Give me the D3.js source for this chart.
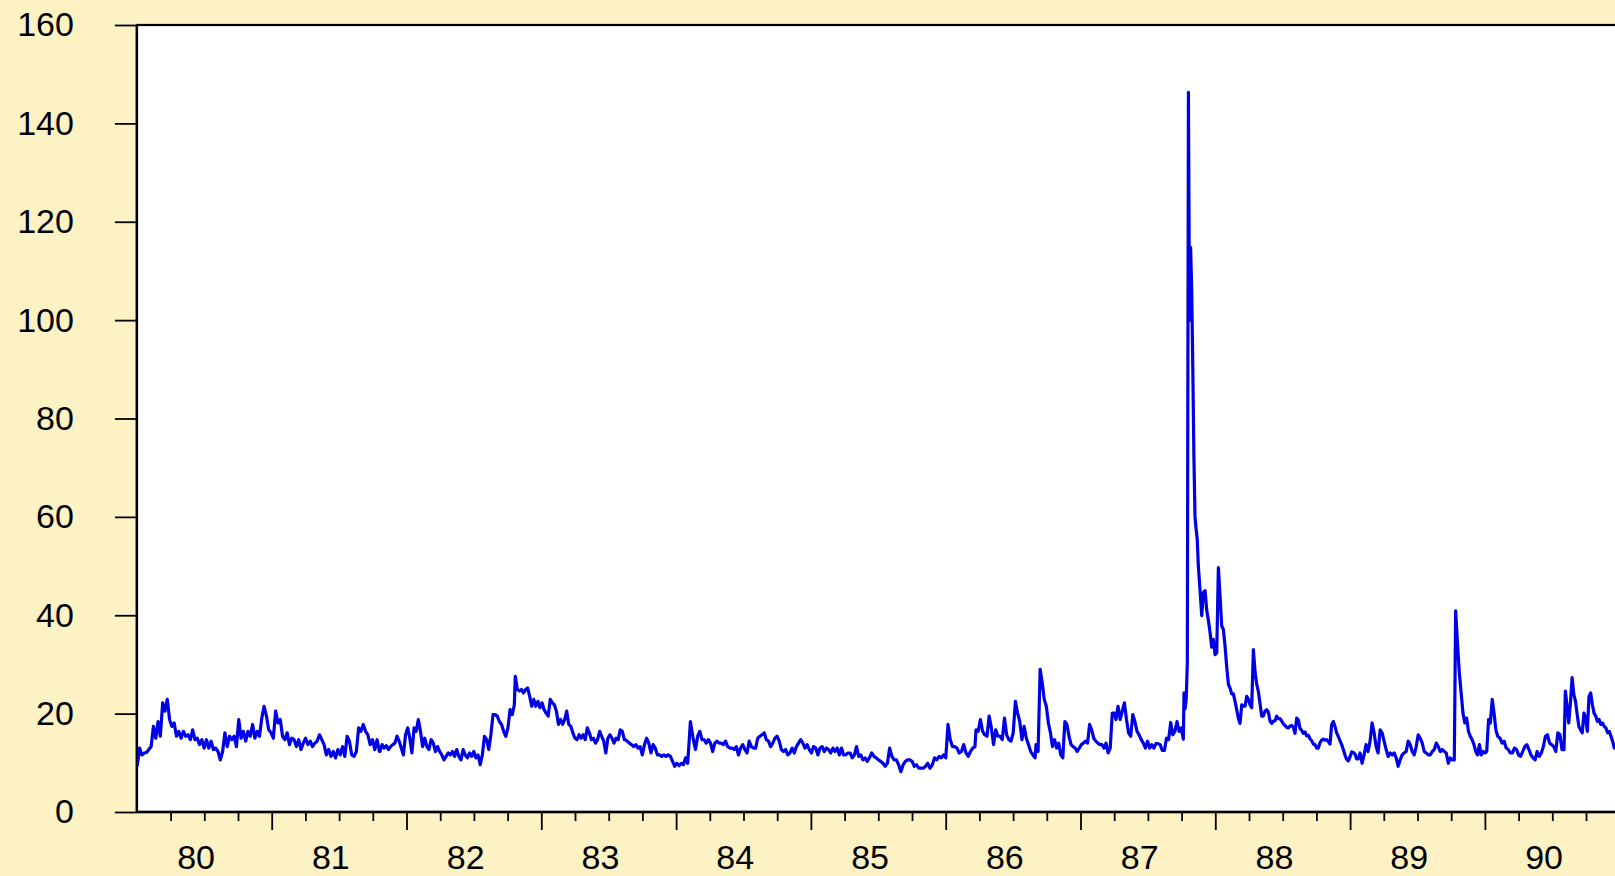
<!DOCTYPE html>
<html>
<head>
<meta charset="utf-8">
<script src="https://cdn.jsdelivr.net/npm/d3@7"></script>
<style>
html,body{margin:0;padding:0;background:#FCF2C4;overflow:hidden}
svg{display:block}
</style>
</head>
<body>
<svg id="chart" width="1615" height="876"></svg>
<script>
// ---- Data: daily volatility index, in time segments ----
// Each segment: [start year (decimal), end year (decimal)], values spread evenly in between.
const span1980a = [1980.003, 1981.799];
const vol1980a = [9.5,13.0,11.6,12.0,12.1,12.7,13.3,17.4,15.0,18.4,15.4,22.2,20.5,22.9,18.8,17.4,18.1,15.4,16.4,15.0,
  16.4,15.4,15.7,14.7,16.7,14.7,15.0,13.7,14.7,13.0,14.7,13.0,14.4,12.7,13.0,12.3,10.6,12.3,16.1,13.3,
  15.4,14.7,15.4,13.3,18.8,15.0,16.4,14.4,16.4,15.4,17.8,15.0,16.4,15.4,19.1,21.5,19.5,16.7,16.1,15.0,
  20.5,18.1,18.8,15.4,14.7,16.1,13.7,15.0,14.7,13.3,14.7,12.7,14.0,15.0,13.7,14.4,13.3,14.0,14.4,15.7,
  14.7,13.7,11.6,12.7,11.3,12.3,11.0,12.7,11.6,13.3,11.3,15.4,14.4,11.6,11.3,12.3,17.1,16.4,17.8,16.4,
  15.7,13.7,14.7,12.7,14.7,12.3];

const span1981b = [1981.803, 1982.800];
const vol1981b = [12.3,13.7,13.0,13.5,12.7,13.3,13.7,14.0,15.4,14.4,13.0,11.6,15.7,17.1,15.0,12.0,17.1,16.4,18.8,16.4,
  13.3,15.0,13.3,12.7,14.7,14.0,12.3,13.3,12.3,11.6,10.6,11.3,12.0,11.6,12.3,11.3,12.7,11.3,10.6,12.7,
  11.6,11.0,12.0,11.3,12.3,11.0,11.6,9.6,11.6,15.4,14.7,12.7,15.7,19.8,19.8,19.5,18.4,17.8,16.4,15.4,
  17.1,20.8,19.8,21.8];

const span1982c = [1982.807, 1983.616];
const vol1982c = [27.6,24.9,24.6,24.9,24.2,24.9,25.2,23.5,21.5,22.9,21.5,22.5,21.2,22.2,20.8,20.1,19.5,22.9,22.2,21.8,
  20.5,17.8,18.8,17.8,18.8,20.5,17.8,17.4,16.1,15.0,14.7,15.7,15.0,15.7,14.7,17.1,16.1,14.7,15.0,14.0,
  14.7,16.4,15.4,14.4,12.0,15.0,15.7,15.0,14.0,15.0,14.7,16.7,16.4,14.7];

const span1983d = [1983.621, 1984.086];
const vol1983d = [14.7,14.4,14.0,13.7,13.3,13.7,13.0,13.3,11.6,13.7,15.0,14.0,12.0,13.7,13.0,11.6,11.6,11.3,11.6,11.3,
  11.6,11.3,10.3,9.3,9.9,9.4,9.9,9.6,11.0,9.9];

const span1984a = [1984.096, 1984.116];
const vol1984a = [14.0,18.4,16.7];

const span1984b = [1984.128, 1985.434];
const vol1984b = [14.7,12.7,15.4,16.4,14.7,14.7,14.0,14.7,14.0,12.3,14.0,14.4,14.0,14.0,13.7,14.4,13.3,13.0,13.0,12.7,
  13.3,11.6,13.0,13.7,12.7,12.0,14.4,13.3,13.0,13.0,15.0,15.4,15.7,16.1,14.7,14.4,13.3,14.0,15.0,15.4,
  14.4,12.7,12.3,12.7,11.6,12.0,13.0,12.0,13.3,14.0,14.7,14.0,13.0,13.7,12.7,12.0,13.3,13.0,11.6,13.0,
  13.3,12.3,13.0,12.7,12.0,13.0,12.3,13.0,11.6,13.0,11.6,11.6,12.0,12.0,11.0,11.6,13.3,11.3,11.6,10.6,
  11.0,10.3,11.0];

const span1985c = [1985.451, 1986.217];
const vol1985c = [12.0,11.3,11.0,10.6,10.3,9.9,9.3,9.9,13.0,11.3,10.6,10.6,9.6,8.2,9.6,10.3,10.6,10.6,10.3,9.3,
  9.6,8.9,8.9,8.9,9.3,9.9,8.9,9.6,11.0,10.6,11.3,11.0,11.6,11.0,17.8,14.7,13.3,13.3,13.0,12.0,
  12.3,13.7,12.0,11.3,12.3,13.0,13.3];

const span1986a = [1986.225, 1986.663];
const vol1986a = [16.7,16.4,18.8,16.4,15.7,15.4,19.5,17.1,13.7,16.7,15.4,15.4,14.7,19.1,15.7,14.7,14.4,16.1,22.5,20.1,
  18.4,14.7,17.4,15.0,13.7,12.3,11.6,11.0];

const span1986b = [1986.670, 1987.251];
const vol1986b = [13.7,12.3,29.0,26.3,22.9,21.5,18.1,16.1,13.3,14.7,13.0,14.0,11.6,11.0,18.4,17.8,15.4,13.7,13.3,13.0,
  12.3,13.0,13.7,14.0,14.4,14.0,17.8,16.7,15.0,14.4,14.0,13.7,13.7,13.0,14.0,12.0,13.0,20.1,20.1];

const span1987a = [1987.263, 1987.763];
const vol1987a = [18.8,21.5,18.8,20.5,22.2,18.8,16.1,15.4,19.8,18.4,16.4,15.7,14.7,14.0,13.0,14.4,13.0,13.7,13.0,13.9,
  13.9,13.7,12.5,12.5,15.0,14.7,18.2,15.7,16.4,18.4,16.4,17.1,14.8];

const spanCrash = [1987.768, 1987.874];
const volCrash = [24.2,21.0,23.0,30.3,146.3,100,114.8,106,90,72,60,57.5,55.5,50.1];

const span1987b = [1987.887, 1989.061];
const vol1987b = [45,39.9,44.6,45,41,39,36.5,33.5,35.1,32,32.4,49.7,43.9,37.8,37.1,33.7,29.5,26,25.2,24,
  24,22.5,20.8,19,18.0,21.8,21.5,21.5,23.5,23,21.8,21.2,33.0,28.5,26,24.5,22,19.5,19.5,20.5,
  20.8,20.3,18.5,18.0,18.5,18.5,19.5,19,19,18.5,17.9,17.6,17.2,17.1,17.5,17.6,17.2,16,19.1,18.7,
  17,16.6,16,16.3,15.5,15.6,14.9,14.5,13.8,13.7,13,13,14.1,14.6,14.8,14.6,14.7,14.3,13.8,17.8,
  18.4,17.4,16.1,15.3,14.5,13.7,12.7,11.6,10.7,10.4,11.2,12.2,12.1,11.8,10.8,10.8];

const span1989a = [1989.074, 1989.773];
const vol1989a = [12.0,9.9,11.6,13.7,12.3,14.4,18.1,16.1,13.3,12.0,16.7,16.1,14.4,12.7,11.3,12.0,11.6,12.0,11.0,9.3,
  10.6,11.6,12.0,12.3,14.4,13.7,12.3,11.6,13.3,15.7,15.0,14.0,12.3,12.0,11.6,11.6,12.3,12.7,14.0,13.3,
  12.3,12.7,12.3,12.0,9.9,11.0,10.6,10.6];

const span1989b = [1989.783, 1990.095];
const vol1989b = [40.9,34.4,28.3,24.2,20.1,18.1,19.1,16.4,15.4,14.7,13.7,12.3,11.6,13.7,11.6,12.3,12.0,12.3,18.8,18.1,
  22.9,20.1,16.7,15.4];

const span1990a = [1990.112, 1990.587];
const vol1990a = [15.0,14.0,14.4,13.0,12.7,12.0,12.0,13.0,12.7,11.6,11.3,12.3,13.3,13.7,12.7,11.6,11.0,10.6,12.3,11.3,
  12.0,13.3,15.4,15.7,14.0,13.7,13.3,12.3,16.1,15.7,12.7,12.7];

const span1990b = [1990.597, 1990.960];
const vol1990b = [24.6,21.5,18.1,22.2,27.3,23.9,22.5,19.8,17.4,16.7,16.1,20.1,19.1,16.4,23.5,24.2,21.8,20.1,19.5,18.4,
  18.8,17.8,18.1,17.4,17.1,16.1,16.4,15.4,14.4,13.0];

const yTicks = [0, 20, 40, 60, 80, 100, 120, 140, 160];
const yearLabels = ["80","81","82","83","84","85","86","87","88","89","90"];
const firstYear = 1980;

// ---- Build series ----
const segs = [
  [span1980a, vol1980a],[span1981b, vol1981b],[span1982c, vol1982c],[span1983d, vol1983d],
  [span1984a, vol1984a],[span1984b, vol1984b],[span1985c, vol1985c],[span1986a, vol1986a],
  [span1986b, vol1986b],[span1987a, vol1987a],[spanCrash, volCrash],[span1987b, vol1987b],
  [span1989a, vol1989a],[span1989b, vol1989b],[span1990a, vol1990a],[span1990b, vol1990b]
];
const series = [];
segs.forEach(([sp, vals]) => {
  const n = vals.length;
  vals.forEach((v, i) => {
    const t = n === 1 ? sp[0] : sp[0] + (sp[1] - sp[0]) * i / (n - 1);
    series.push({t, v});
  });
});

// ---- Layout ----
const W = 1615, H = 876;
const pLeft = 136.9, pTop = 25, pBottom = 812, pRight = 1619.7;
const svg = d3.select("#chart");
const x = d3.scaleLinear().domain([firstYear, firstYear + yearLabels.length]).range([pLeft, pRight]);
const y = d3.scaleLinear().domain([0, 160]).range([pBottom, pTop]);

svg.append("rect").attr("x",0).attr("y",0).attr("width",W).attr("height",H).attr("fill","#FCF2C4");

svg.append("defs").append("clipPath").attr("id","plotclip")
  .append("rect").attr("x", pLeft).attr("y", pTop).attr("width", pRight-pLeft).attr("height", pBottom-pTop);

svg.append("rect").attr("x", pLeft).attr("y", pTop).attr("width", pRight-pLeft).attr("height", pBottom-pTop)
  .attr("fill","#ffffff").attr("stroke","#000").attr("stroke-width",2.2);

const font = "'Liberation Sans', Arial, Helvetica, sans-serif";

// Y axis
const yAxis = svg.append("g").attr("transform", `translate(${pLeft},0)`)
  .call(d3.axisLeft(y).tickValues(yTicks).tickSize(22).tickPadding(41).tickSizeOuter(0));
yAxis.select(".domain").remove();
yAxis.selectAll("line").attr("stroke","#000").attr("stroke-width",1.6);
yAxis.selectAll("text").attr("font-family",font).attr("font-size","34px").attr("fill","#000");

// X axis: quarter (minor) ticks, year (major) ticks, labels
const years = d3.range(firstYear + 1, firstYear + yearLabels.length);
const quarters = [];
d3.range(firstYear, firstYear + yearLabels.length).forEach(yr => [0.25,0.5,0.75].forEach(q => quarters.push(yr + q)));

const xMinor = svg.append("g").attr("transform", `translate(0,${pBottom})`)
  .call(d3.axisBottom(x).tickValues(quarters).tickSize(9).tickFormat("").tickSizeOuter(0));
xMinor.select(".domain").remove();
const xMajor = svg.append("g").attr("transform", `translate(0,${pBottom})`)
  .call(d3.axisBottom(x).tickValues(years).tickSize(18).tickFormat("").tickSizeOuter(0));
xMajor.select(".domain").remove();
svg.selectAll(".tick line").attr("stroke","#000").attr("stroke-width",1.8);

const labelPos = yearLabels.map((s, i) => firstYear + i + 0.435);
const xLab = svg.append("g").attr("transform", `translate(0,${pBottom})`)
  .call(d3.axisBottom(x).tickValues(labelPos).tickSize(0).tickPadding(33)
    .tickFormat((d, i) => yearLabels[i]).tickSizeOuter(0));
xLab.select(".domain").remove();
xLab.selectAll("text").attr("font-family",font).attr("font-size","34px").attr("fill","#000");

// Axis lines (left and bottom) drawn on top of the frame
svg.append("line").attr("x1",pLeft).attr("x2",pLeft).attr("y1",pTop).attr("y2",pBottom)
  .attr("stroke","#000").attr("stroke-width",2.4);
svg.append("line").attr("x1",pLeft).attr("x2",pRight).attr("y1",pBottom).attr("y2",pBottom)
  .attr("stroke","#000").attr("stroke-width",2.4);

// Line
const line = d3.line().x(d => x(d.t)).y(d => y(d.v));
svg.append("path").datum(series)
  .attr("clip-path","url(#plotclip)")
  .attr("fill","none").attr("stroke","#0000E6").attr("stroke-width",3.2)
  .attr("stroke-linejoin","round").attr("stroke-linecap","round")
  .attr("d", line);
</script>
</body>
</html>
